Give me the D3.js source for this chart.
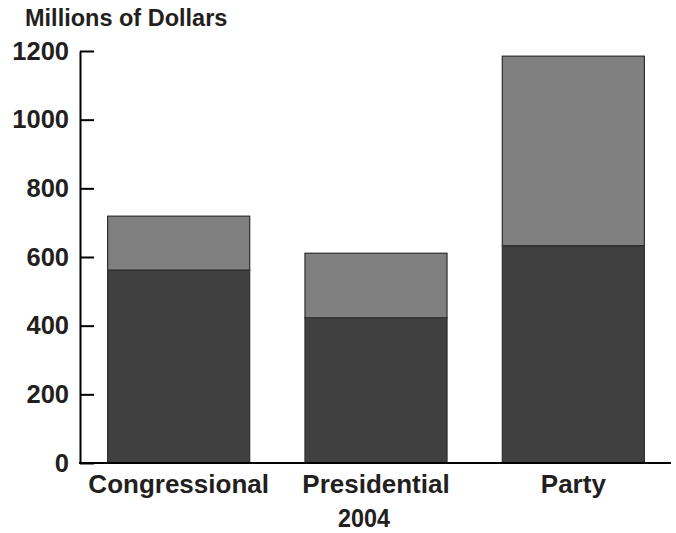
<!DOCTYPE html>
<html>
<head>
<meta charset="utf-8">
<script src="https://cdn.jsdelivr.net/npm/d3@7"></script>
<style>
  html, body { margin: 0; padding: 0; background: #fff; overflow: hidden; }
  svg { display: block; }
  text { font-family: "Liberation Sans", Arial, Helvetica, sans-serif; font-weight: bold; fill: #231f20; }
</style>
</head>
<body>
<svg id="chart" width="676" height="533"></svg>
<script>
const categories = ["Congressional", "Presidential", "Party"];
const baseValues = [562, 423, 633];
const topValues = [157, 188, 552];
const yTicks = [0, 200, 400, 600, 800, 1000, 1200];
const yLabel = "Millions of Dollars";
const xLabel = "2004";

const svg = d3.select("#chart");
const x = d3.scaleBand().domain(categories).range([80, 672]).paddingInner(0.275).paddingOuter(0.1375);
const y = d3.scaleLinear().domain([0, 1200]).range([463, 51]);

const stacked = categories.map((c, i) => ({
  cat: c,
  segs: [
    { y0: 0, y1: baseValues[i], fill: "#404040" },
    { y0: baseValues[i], y1: baseValues[i] + topValues[i], fill: "#808080" }
  ]
}));

const g = svg.append("g");
stacked.forEach(d => {
  g.selectAll(null).data(d.segs).enter().append("rect")
    .attr("x", x(d.cat) + 0.5)
    .attr("width", x.bandwidth() - 1)
    .attr("y", s => y(s.y1))
    .attr("height", s => y(s.y0) - y(s.y1))
    .attr("fill", s => s.fill)
    .attr("stroke", "#2e2e2e")
    .attr("stroke-width", 1.2);
});

// y axis
const yAxis = d3.axisLeft(y).tickValues(yTicks).tickSizeInner(-14).tickSizeOuter(0).tickPadding(11).tickFormat(d3.format("d"));
const ya = svg.append("g").attr("transform", "translate(80,0)").call(yAxis);
ya.select(".domain").attr("stroke", "#000").attr("stroke-width", 2);
ya.selectAll(".tick line").attr("stroke", "#000").attr("stroke-width", 2);
ya.selectAll(".tick text").attr("font-size", 25.5).attr("font-family", "Liberation Sans, Arial, sans-serif").attr("font-weight", "bold").attr("fill", "#000");

// baseline
svg.append("line").attr("x1", 79).attr("x2", 671).attr("y1", y(0)).attr("y2", y(0))
  .attr("stroke", "#000").attr("stroke-width", 2);

// x labels
svg.selectAll(".xl").data(categories).enter().append("text")
  .attr("x", d => x(d) + x.bandwidth() / 2)
  .attr("y", 493)
  .attr("text-anchor", "middle")
  .attr("font-size", 26)
  .text(d => d);

svg.append("text").attr("x", 25).attr("y", 26).attr("font-size", 23.5).text(yLabel);

svg.append("text").attr("x", 338).attr("y", 527).attr("font-size", 25)
  .attr("textLength", 52).attr("lengthAdjust", "spacingAndGlyphs")
  .style("font-family", "'Liberation Sans Narrow', 'Liberation Sans', Arial, sans-serif")
  .text(xLabel);
</script>
</body>
</html>
